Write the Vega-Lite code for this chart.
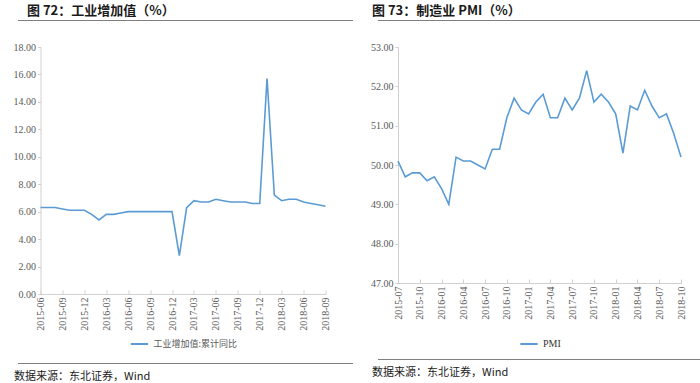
{
  "$schema": "https://vega.github.io/schema/vega-lite/v6.json",
  "padding": {"left": 5, "top": 5, "right": 5, "bottom": 0},
  "background": "white",
  "datasets": {
    "ip": [
      {"month": "2015-06", "value": 6.3, "series": "工业增加值:累计同比"},
      {"month": "2015-07", "value": 6.3, "series": "工业增加值:累计同比"},
      {"month": "2015-08", "value": 6.3, "series": "工业增加值:累计同比"},
      {"month": "2015-09", "value": 6.2, "series": "工业增加值:累计同比"},
      {"month": "2015-10", "value": 6.1, "series": "工业增加值:累计同比"},
      {"month": "2015-11", "value": 6.1, "series": "工业增加值:累计同比"},
      {"month": "2015-12", "value": 6.1, "series": "工业增加值:累计同比"},
      {"month": "2016-01", "value": 5.8, "series": "工业增加值:累计同比"},
      {"month": "2016-02", "value": 5.4, "series": "工业增加值:累计同比"},
      {"month": "2016-03", "value": 5.8, "series": "工业增加值:累计同比"},
      {"month": "2016-04", "value": 5.8, "series": "工业增加值:累计同比"},
      {"month": "2016-05", "value": 5.9, "series": "工业增加值:累计同比"},
      {"month": "2016-06", "value": 6.0, "series": "工业增加值:累计同比"},
      {"month": "2016-07", "value": 6.0, "series": "工业增加值:累计同比"},
      {"month": "2016-08", "value": 6.0, "series": "工业增加值:累计同比"},
      {"month": "2016-09", "value": 6.0, "series": "工业增加值:累计同比"},
      {"month": "2016-10", "value": 6.0, "series": "工业增加值:累计同比"},
      {"month": "2016-11", "value": 6.0, "series": "工业增加值:累计同比"},
      {"month": "2016-12", "value": 6.0, "series": "工业增加值:累计同比"},
      {"month": "2017-01", "value": 2.8, "series": "工业增加值:累计同比"},
      {"month": "2017-02", "value": 6.3, "series": "工业增加值:累计同比"},
      {"month": "2017-03", "value": 6.8, "series": "工业增加值:累计同比"},
      {"month": "2017-04", "value": 6.7, "series": "工业增加值:累计同比"},
      {"month": "2017-05", "value": 6.7, "series": "工业增加值:累计同比"},
      {"month": "2017-06", "value": 6.9, "series": "工业增加值:累计同比"},
      {"month": "2017-07", "value": 6.8, "series": "工业增加值:累计同比"},
      {"month": "2017-08", "value": 6.7, "series": "工业增加值:累计同比"},
      {"month": "2017-09", "value": 6.7, "series": "工业增加值:累计同比"},
      {"month": "2017-10", "value": 6.7, "series": "工业增加值:累计同比"},
      {"month": "2017-11", "value": 6.6, "series": "工业增加值:累计同比"},
      {"month": "2017-12", "value": 6.6, "series": "工业增加值:累计同比"},
      {"month": "2018-01", "value": 15.7, "series": "工业增加值:累计同比"},
      {"month": "2018-02", "value": 7.2, "series": "工业增加值:累计同比"},
      {"month": "2018-03", "value": 6.8, "series": "工业增加值:累计同比"},
      {"month": "2018-04", "value": 6.9, "series": "工业增加值:累计同比"},
      {"month": "2018-05", "value": 6.9, "series": "工业增加值:累计同比"},
      {"month": "2018-06", "value": 6.7, "series": "工业增加值:累计同比"},
      {"month": "2018-07", "value": 6.6, "series": "工业增加值:累计同比"},
      {"month": "2018-08", "value": 6.5, "series": "工业增加值:累计同比"},
      {"month": "2018-09", "value": 6.4, "series": "工业增加值:累计同比"}
    ],
    "pmi": [
      {"month": "2015-07", "value": 50.1, "series": "PMI"},
      {"month": "2015-08", "value": 49.7, "series": "PMI"},
      {"month": "2015-09", "value": 49.8, "series": "PMI"},
      {"month": "2015-10", "value": 49.8, "series": "PMI"},
      {"month": "2015-11", "value": 49.6, "series": "PMI"},
      {"month": "2015-12", "value": 49.7, "series": "PMI"},
      {"month": "2016-01", "value": 49.4, "series": "PMI"},
      {"month": "2016-02", "value": 49.0, "series": "PMI"},
      {"month": "2016-03", "value": 50.2, "series": "PMI"},
      {"month": "2016-04", "value": 50.1, "series": "PMI"},
      {"month": "2016-05", "value": 50.1, "series": "PMI"},
      {"month": "2016-06", "value": 50.0, "series": "PMI"},
      {"month": "2016-07", "value": 49.9, "series": "PMI"},
      {"month": "2016-08", "value": 50.4, "series": "PMI"},
      {"month": "2016-09", "value": 50.4, "series": "PMI"},
      {"month": "2016-10", "value": 51.2, "series": "PMI"},
      {"month": "2016-11", "value": 51.7, "series": "PMI"},
      {"month": "2016-12", "value": 51.4, "series": "PMI"},
      {"month": "2017-01", "value": 51.3, "series": "PMI"},
      {"month": "2017-02", "value": 51.6, "series": "PMI"},
      {"month": "2017-03", "value": 51.8, "series": "PMI"},
      {"month": "2017-04", "value": 51.2, "series": "PMI"},
      {"month": "2017-05", "value": 51.2, "series": "PMI"},
      {"month": "2017-06", "value": 51.7, "series": "PMI"},
      {"month": "2017-07", "value": 51.4, "series": "PMI"},
      {"month": "2017-08", "value": 51.7, "series": "PMI"},
      {"month": "2017-09", "value": 52.4, "series": "PMI"},
      {"month": "2017-10", "value": 51.6, "series": "PMI"},
      {"month": "2017-11", "value": 51.8, "series": "PMI"},
      {"month": "2017-12", "value": 51.6, "series": "PMI"},
      {"month": "2018-01", "value": 51.3, "series": "PMI"},
      {"month": "2018-02", "value": 50.3, "series": "PMI"},
      {"month": "2018-03", "value": 51.5, "series": "PMI"},
      {"month": "2018-04", "value": 51.4, "series": "PMI"},
      {"month": "2018-05", "value": 51.9, "series": "PMI"},
      {"month": "2018-06", "value": 51.5, "series": "PMI"},
      {"month": "2018-07", "value": 51.2, "series": "PMI"},
      {"month": "2018-08", "value": 51.3, "series": "PMI"},
      {"month": "2018-09", "value": 50.8, "series": "PMI"},
      {"month": "2018-10", "value": 50.2, "series": "PMI"}
    ],
    "blank": [{}]
  },
  "hconcat": [
    {
      "spacing": 21,
      "center": true,
      "resolve": {"scale": {"color": "independent"}, "legend": {"color": "independent"}},
      "vconcat": [
        {
          "data": {"name": "blank"},
          "mark": {"type": "rect", "color": "#7f7f7f"},
          "encoding": {},
          "width": 335,
          "height": 1,
          "title": {"text": "图 72：工业增加值（%）", "anchor": "start", "dx": 9, "offset": 2, "fontSize": 13, "fontWeight": "bold", "font": "Noto Sans CJK SC", "color": "#1a1a1a"}
        },
        {
          "spacing": 14,
          "center": true,
          "resolve": {"scale": {"color": "independent"}, "legend": {"color": "independent"}},
          "vconcat": [
            {
              "data": {"name": "ip"},
              "mark": {"type": "line", "color": "#5b9bd5", "strokeWidth": 1.6},
              "width": 285,
              "height": 247,
              "encoding": {
                "x": {"field": "month", "type": "ordinal", "sort": null,
                      "scale": {"type": "point", "padding": 0},
                      "axis": {"title": null, "labelAngle": 270, "values": ["2015-06","2015-09","2015-12","2016-03","2016-06","2016-09","2016-12","2017-03","2017-06","2017-09","2017-12","2018-03","2018-06","2018-09"], "tickSize": -4, "labelPadding": 7}},
                "y": {"field": "value", "type": "quantitative",
                      "scale": {"domain": [0, 18], "nice": false, "zero": false},
                      "axis": {"title": null, "values": [0,2,4,6,8,10,12,14,16,18], "format": ".2f", "grid": false, "tickSize": 3, "minExtent": 35}},
                "color": {"field": "series", "type": "nominal", "scale": {"range": ["#5b9bd5"]},
                          "legend": {"title": null, "orient": "bottom", "direction": "horizontal", "symbolType": "stroke", "symbolSize": 300, "symbolStrokeWidth": 2, "labelFontSize": 9, "labelFont": "Noto Sans CJK SC", "labelColor": "#595959", "offset": 3}}
              }
            },
            {
              "data": {"name": "blank"},
              "mark": {"type": "rect", "color": "#7f7f7f"},
              "encoding": {},
              "width": 335,
              "height": 1,
              "title": {"text": "数据来源：东北证券，Wind", "orient": "bottom", "anchor": "start", "dx": -4, "offset": 7, "fontSize": 11, "fontWeight": "normal", "font": "Noto Sans CJK SC", "color": "#1a1a1a"}
            }
          ]
        }
      ]
    },
    {
      "spacing": 21,
      "center": true,
      "resolve": {"scale": {"color": "independent"}, "legend": {"color": "independent"}},
      "vconcat": [
        {
          "data": {"name": "blank"},
          "mark": {"type": "rect", "color": "#7f7f7f"},
          "encoding": {},
          "width": 328,
          "height": 1,
          "title": {"text": "图 73：制造业 PMI（%）", "anchor": "start", "dx": -6, "offset": 2, "fontSize": 13, "fontWeight": "bold", "font": "Noto Sans CJK SC", "color": "#1a1a1a"}
        },
        {
          "spacing": 10,
          "center": true,
          "resolve": {"scale": {"color": "independent"}, "legend": {"color": "independent"}},
          "vconcat": [
            {
              "data": {"name": "pmi"},
              "mark": {"type": "line", "color": "#5b9bd5", "strokeWidth": 1.6},
              "width": 283,
              "height": 236,
              "encoding": {
                "x": {"field": "month", "type": "ordinal", "sort": null,
                      "scale": {"type": "point", "padding": 0},
                      "axis": {"title": null, "labelAngle": 270, "values": ["2015-07","2015-10","2016-01","2016-04","2016-07","2016-10","2017-01","2017-04","2017-07","2017-10","2018-01","2018-04","2018-07","2018-10"], "tickSize": -4, "labelPadding": 7}},
                "y": {"field": "value", "type": "quantitative",
                      "scale": {"domain": [47, 53], "nice": false, "zero": false},
                      "axis": {"title": null, "values": [47,48,49,50,51,52,53], "format": ".2f", "grid": false, "tickSize": 3, "minExtent": 40}},
                "color": {"field": "series", "type": "nominal", "scale": {"range": ["#5b9bd5"]},
                          "legend": {"title": null, "orient": "bottom", "direction": "horizontal", "symbolType": "stroke", "symbolSize": 300, "symbolStrokeWidth": 2, "labelFontSize": 10, "labelFont": "Liberation Serif", "labelColor": "#333333", "offset": 14}}
              }
            },
            {
              "data": {"name": "blank"},
              "mark": {"type": "rect", "color": "#7f7f7f"},
              "encoding": {},
              "width": 328,
              "height": 1,
              "title": {"text": "数据来源：东北证券，Wind", "orient": "bottom", "anchor": "start", "dx": -6, "offset": 7, "fontSize": 11, "fontWeight": "normal", "font": "Noto Sans CJK SC", "color": "#1a1a1a"}
            }
          ]
        }
      ]
    }
  ],
  "spacing": 5,
  "resolve": {"scale": {"color": "independent"}, "legend": {"color": "independent"}},
  "config": {
    "view": {"stroke": null},
    "axis": {"labelFont": "Liberation Serif", "labelFontSize": 10, "labelColor": "#595959", "domainColor": "#d0d0d0", "tickColor": "#d0d0d0"},
    "legend": {"layout": {"bottom": {"anchor": "middle"}}}
  }
}
